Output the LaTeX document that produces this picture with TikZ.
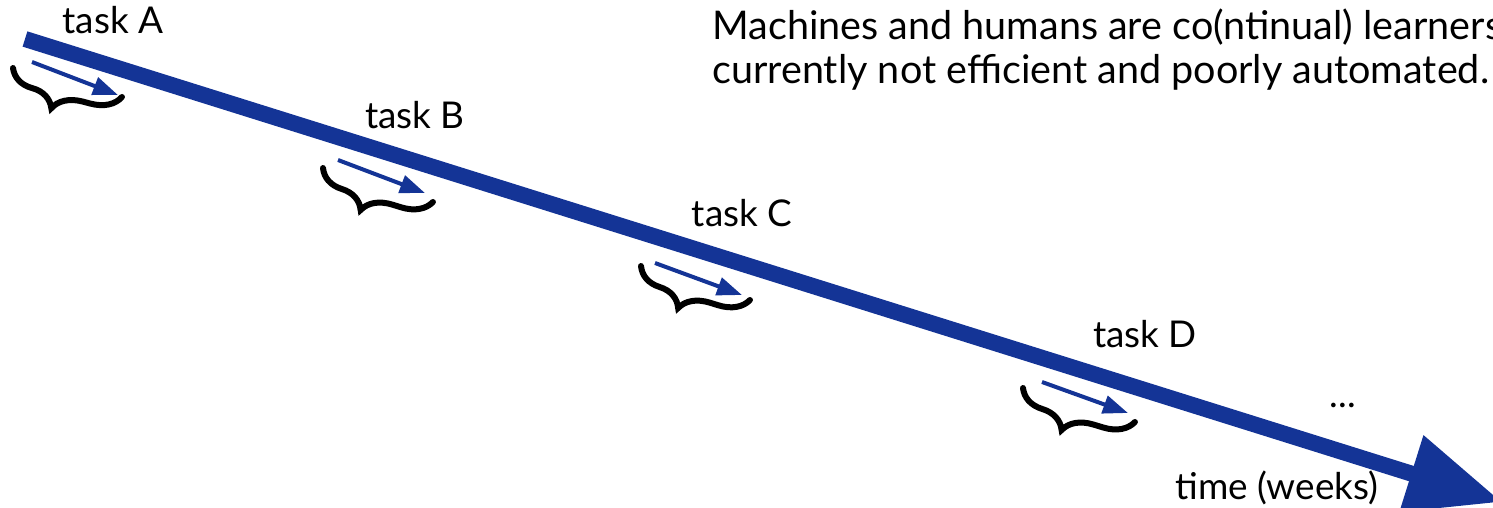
\documentclass[tikz,border=0pt]{standalone}
\usepackage{fontspec}
\setmainfont{Lato}
\usetikzlibrary{arrows.meta,decorations.pathreplacing}
\definecolor{timeblue}{RGB}{20,52,150}

\begin{document}
\begin{tikzpicture}[x=0.02cm, y=-0.02cm,
    label/.style={font=\fontsize{21}{25}\selectfont, inner sep=0pt},
    timeline/.style={draw=timeblue, line width=0.32cm, -{Triangle[length=1.9cm, width=1.52cm]}},
    learn/.style={draw=timeblue, line width=0.08cm, -{Triangle[length=0.5cm, width=0.36cm]}},
    span/.style={draw, line width=0.12cm, line cap=round, decorate, decoration={brace, mirror, amplitude=0.58cm, aspect=0.42}}
]
\clip (0,0) rectangle (1493,507);

% time axis
\coordinate (t0) at (25,39);
\coordinate (t1) at (1502,502);
\draw[timeline] (t0) -- (t1);

% tasks along the axis
\node[label] (taskA) at (113,20) {task A};
\node[label] (taskB) at (415,115) {task B};
\node[label] (taskC) at (742,213) {task C};
\node[label] (taskD) at (1145,334) {task D};
\node[label] (more) at (1343,405) {...};
\node[label] (time) at (1277,488) {time (weeks)};

% learning phase of each task
\coordinate (a0) at (32,62);   \coordinate (a1) at (118,95);
\coordinate (b0) at (338,160); \coordinate (b1) at (425,193);
\coordinate (c0) at (655,263); \coordinate (c1) at (742,295);
\coordinate (d0) at (1042,382); \coordinate (d1) at (1128,413);
\draw[learn] (a0) -- (a1);
\draw[learn] (b0) -- (b1);
\draw[learn] (c0) -- (c1);
\draw[learn] (d0) -- (d1);

\coordinate (ba0) at (13,68);   \coordinate (ba1) at (122,97);
\coordinate (bb0) at (323,168); \coordinate (bb1) at (433,202);
\coordinate (bc0) at (641,266); \coordinate (bc1) at (750,300);
\coordinate (bd0) at (1023,388); \coordinate (bd1) at (1135,422);
\draw[span] (ba0) -- (ba1);
\draw[span] (bb0) -- (bb1);
\draw[span] (bc0) -- (bc1);
\draw[span] (bd0) -- (bd1);

\node[label, font=\fontsize{22.5}{25}\selectfont, anchor=west, align=left] (note) at (712,50)
  {Machines and humans are co(ntinual) learners\\currently not efficient and poorly automated.};
\end{tikzpicture}
\end{document}
